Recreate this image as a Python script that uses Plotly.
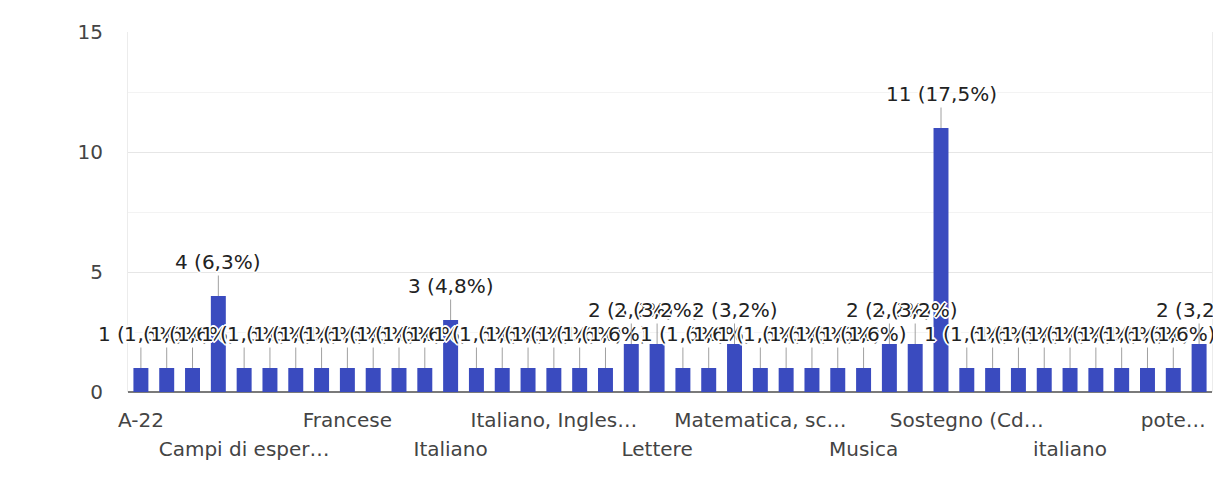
import plotly.graph_objects as go

categories = [
    "A-22", "A022", "Arte", "Arte e immagine", "Campi di esperienza",
    "Campi di esperienza, inglese", "Diritto", "Educazione fisica", "Francese",
    "Geografia", "Inglese", "Inglese, francese", "Italiano", "Italiano, Arte",
    "Italiano, Geografia", "Italiano, Inglese", "Italiano, Inglese, Storia",
    "Italiano, Storia", "Italiano, storia, geografia", "Latino", "Lettere",
    "Lettere, storia", "Lingue straniere", "Matematica", "Matematica, scienze",
    "Matematica, scienze, tecnologia", "Materie letterarie", "Motoria", "Musica",
    "Religione", "Scienze", "Sostegno", "Sostegno (CdC)", "Sostegno, italiano",
    "Spagnolo", "Storia", "italiano", "italiano, storia", "lettere",
    "matematica", "potenziamento", "sostegno",
]
values = [1, 1, 1, 4, 1, 1, 1, 1, 1, 1, 1, 1, 3, 1, 1, 1, 1, 1, 1, 2, 2, 1, 1, 2,
          1, 1, 1, 1, 1, 2, 2, 11, 1, 1, 1, 1, 1, 1, 1, 1, 1, 2]

tick_row1_vals = ["A-22", "Francese", "Italiano, Inglese, Storia", "Matematica, scienze",
                  "Sostegno (CdC)", "potenziamento"]
tick_row1_text = ["A-22", "Francese", "Italiano, Ingles…", "Matematica, sc…",
                  "Sostegno (Cd…", "pote…"]
tick_row2_vals = ["Campi di esperienza", "Italiano", "Lettere", "Musica", "italiano"]
tick_row2_text = ["Campi di esper…", "Italiano", "Lettere", "Musica", "italiano"]

y_ticks = [0, 5, 10, 15]

total = sum(values)
FONT = "DejaVu Sans"
BAR_COLOR = "#3a4bbf"

fig = go.Figure()
fig.add_trace(go.Bar(x=categories, y=values, marker=dict(color=BAR_COLOR, line=dict(width=0)),
                     hoverinfo="skip", showlegend=False))
fig.add_trace(go.Scatter(x=categories, y=values, xaxis="x2", yaxis="y", mode="markers",
                         marker=dict(opacity=0, size=1), hoverinfo="skip", showlegend=False))

halo = ("white 1px 1px 0px, white -1px -1px 0px, white 1px -1px 0px, white -1px 1px 0px, "
        "white 2px 0px 0px, white -2px 0px 0px, white 0px 2px 0px, white 0px -2px 0px")

annotations = []
for c, v in zip(categories, values):
    pct = f"{v / total * 100:.1f}".replace(".", ",")
    annotations.append(dict(
        x=c, y=v, xref="x", yref="y", text=f"{v} ({pct}%)",
        showarrow=True, arrowhead=0, arrowwidth=1, arrowcolor="#a0a0a0",
        ax=0, ay=-34, standoff=0,
        font=dict(family=FONT, size=20, color="#222222", shadow=halo),
    ))

fig.update_layout(
    width=1205, height=472,
    margin=dict(l=120, r=1, t=24, b=88),
    paper_bgcolor="white", plot_bgcolor="white",
    bargap=0.42,
    annotations=annotations,
    xaxis=dict(
        type="category", categoryorder="array", categoryarray=categories,
        range=[-0.5, len(categories) - 0.5],
        tickmode="array", tickvals=tick_row1_vals, ticktext=tick_row1_text,
        ticks="", showgrid=False, showline=False, zeroline=False,
        tickfont=dict(family=FONT, size=20, color="#444444"),
        ticklabelstandoff=14, fixedrange=True,
    ),
    xaxis2=dict(
        type="category", categoryorder="array", categoryarray=categories,
        overlaying="x", anchor="y", side="bottom", matches="x",
        tickmode="array", tickvals=tick_row2_vals, ticktext=tick_row2_text,
        ticks="", showgrid=False, showline=False, zeroline=False,
        tickfont=dict(family=FONT, size=20, color="#444444"),
        ticklabelstandoff=43,
    ),
    yaxis=dict(
        range=[0, 15], tickmode="array", tickvals=y_ticks,
        ticks="", showgrid=True, gridcolor="#e6e6e6", gridwidth=1,
        minor=dict(dtick=2.5, showgrid=True, gridcolor="#f3f3f3", ticks=""),
        zeroline=True, zerolinecolor="#7a7a7a", zerolinewidth=2,
        showline=True, linecolor="#ececec", linewidth=1, mirror=True,
        tickfont=dict(family=FONT, size=20, color="#444444"),
        ticklabelstandoff=20, fixedrange=True,
    ),
)

fig.write_html("out.html")
